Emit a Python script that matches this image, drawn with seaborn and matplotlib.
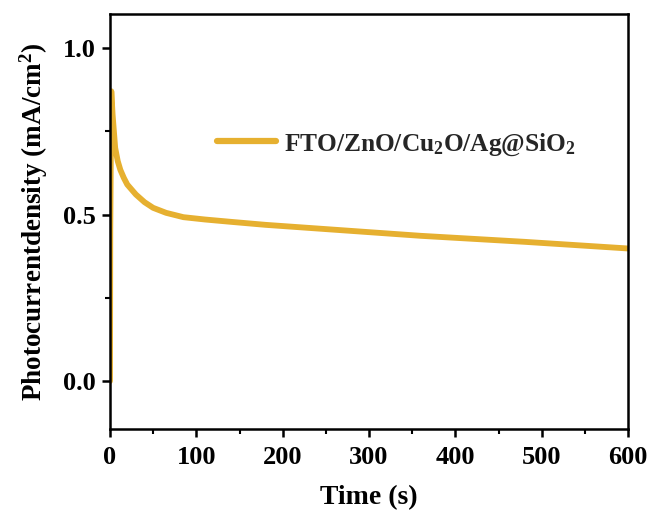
import numpy as np
import pandas as pd
import matplotlib
matplotlib.use("Agg")
import matplotlib.pyplot as plt
from matplotlib.ticker import MultipleLocator
import seaborn as sns

time_s = [0, 0.3, 1.5, 3, 6, 9, 12, 16, 20, 25, 30, 40, 50, 65, 85, 110,
          140, 180, 240, 300, 360, 420, 480, 540, 600]
current = [0.0, 0.45, 0.87, 0.80, 0.70, 0.66, 0.634, 0.61, 0.59, 0.575, 0.56,
           0.537, 0.52, 0.505, 0.492, 0.485, 0.478, 0.469, 0.458, 0.447,
           0.436, 0.427, 0.418, 0.408, 0.398]
label = "FTO/ZnO/Cu$_\\mathregular{2}$O/Ag@SiO$_\\mathregular{2}$"

df = pd.DataFrame({"t": time_s, "j": current})

sns.set_theme(style="ticks")
plt.rcParams['font.family'] = ['Liberation Serif', 'DejaVu Serif']
plt.rcParams['font.weight'] = 'bold'
plt.rcParams['mathtext.fontset'] = 'custom'
plt.rcParams['mathtext.rm'] = 'Liberation Serif:bold'
plt.rcParams['mathtext.it'] = 'Liberation Serif:bold'
plt.rcParams['mathtext.bf'] = 'Liberation Serif:bold'

fig = plt.figure(figsize=(6.53, 5.11), dpi=100)
ax = fig.add_axes([110/653, 1-429/511, 518/653, 415/511])

sns.lineplot(data=df, x="t", y="j", ax=ax, color="#E6B030", lw=4.2,
             label=label, sort=False)
ax.lines[0].set_solid_joinstyle('round')

ax.set_xlim(0, 600)
ax.set_ylim(-0.144, 1.102)
ax.xaxis.set_major_locator(MultipleLocator(100))
ax.xaxis.set_minor_locator(MultipleLocator(50))
ax.yaxis.set_major_locator(MultipleLocator(0.5))
ax.yaxis.set_minor_locator(MultipleLocator(0.25))
ax.set_yticks([0.0, 0.5, 1.0])
ax.set_yticklabels(["0.0", "0.5", "1.0"])
ax.tick_params(which='major', direction='out', length=5.5, width=1.8,
               labelsize=19, pad=5, colors='black')
ax.tick_params(axis='x', which='major', pad=7)
ax.tick_params(which='minor', direction='out', length=3.5, width=1.5, colors='black')
for lab in ax.get_xticklabels() + ax.get_yticklabels():
    lab.set_fontweight('bold')
for s in ax.spines.values():
    s.set_linewidth(1.8)
    s.set_color('black')
    s.set_visible(True)

ax.set_xlabel("Time (s)", fontsize=20, fontweight='bold', color='black', labelpad=11)
ax.set_ylabel("Photocurrentdensity (mA/cm$^\\mathregular{2}$)", fontsize=19.5,
              fontweight='bold', color='black', labelpad=9)

leg = ax.legend(loc='center left', bbox_to_anchor=(0.163, 0.686), frameon=False,
                handlelength=2.3, handletextpad=0.32,
                prop={'weight': 'bold', 'size': 18.3})
for line in leg.get_lines():
    line.set_linewidth(4.5)

fig.savefig("out.png", dpi=100)
